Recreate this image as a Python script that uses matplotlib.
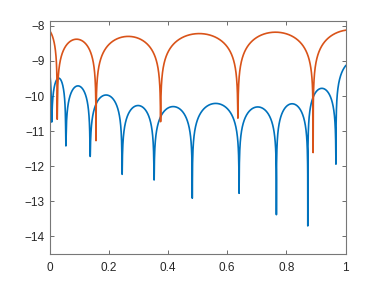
import numpy as np
import matplotlib
matplotlib.use('Agg')
import matplotlib.pyplot as plt

# values
# each series is a row of arches: dip positions, depth reached at each dip,
# and the top of each arch between two dips (first/last dips lie outside [0, 1])
blue_dip_x = [-0.035, 0.007, 0.055, 0.137, 0.245, 0.353, 0.482, 0.640, 0.766, 0.872, 0.967, 1.10]
blue_dip_y = [-14.0, -10.74, -11.42, -11.72, -12.23, -12.39, -12.91, -12.77, -13.38, -13.70, -11.94, -14.0]
blue_peak_y = [-9.00, -9.49, -9.71, -9.97, -10.27, -10.30, -10.21, -10.31, -10.22, -9.78, -8.98]

orange_dip_x = [-0.06, 0.026, 0.157, 0.375, 0.636, 0.890, 1.15]
orange_dip_y = [-14.0, -10.66, -11.27, -10.73, -10.63, -11.61, -14.0]
orange_peak_y = [-8.04, -8.38, -8.30, -8.22, -8.18, -8.11]

x_ticks = [0, 0.2, 0.4, 0.6, 0.8, 1]
x_ticklabels = ['0', '0.2', '0.4', '0.6', '0.8', '1']
y_ticks = [-14, -13, -12, -11, -10, -9, -8]


def arches(dip_x, dip_y, peak_y):
    xs = np.linspace(0, 1, 3001)
    xs = np.union1d(xs, [d for d in dip_x if 0 <= d <= 1])
    ys = np.empty_like(xs)
    for i in range(len(peak_y)):
        a, b = dip_x[i], dip_x[i + 1]
        m = (xs >= a) & (xs <= b)
        t = (xs[m] - a) / (b - a)
        with np.errstate(divide='ignore'):
            y = peak_y[i] + np.log10(np.abs(np.sin(np.pi * t)))
        floor = np.where(t < 0.5, dip_y[i], dip_y[i + 1])
        ys[m] = np.maximum(y, floor)
    return xs, ys


plt.rcParams['font.family'] = ['Liberation Sans', 'DejaVu Sans']

fig = plt.figure(figsize=(3.82, 2.86), dpi=100)
ax = fig.add_axes([0.1296, 0.112, 0.7754, 0.8135])

bx, by = arches(blue_dip_x, blue_dip_y, blue_peak_y)
ox, oy = arches(orange_dip_x, orange_dip_y, orange_peak_y)
ax.plot(bx, by, color='#0072BD', lw=1.2)
ax.plot(ox, oy, color='#D95319', lw=1.2)

ax.set_xlim(0, 1)
ax.set_ylim(-14.5, -7.87)
ax.set_xticks(x_ticks)
ax.set_xticklabels(x_ticklabels)
ax.set_yticks(y_ticks)
ax.tick_params(direction='in', length=3, width=0.6, color='#555555',
               labelcolor='#262626', labelsize=8.5, top=True, right=True)
ax.tick_params(axis='x', pad=6)
for s in ax.spines.values():
    s.set_color('#777777')
    s.set_linewidth(0.8)

fig.savefig('out.png', dpi=100)
